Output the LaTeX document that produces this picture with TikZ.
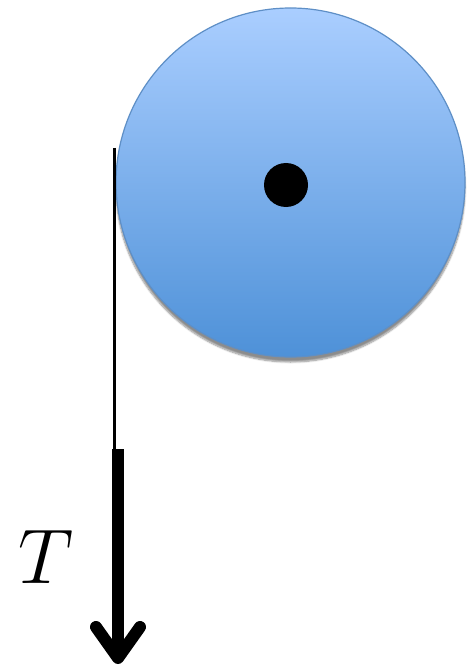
\documentclass[tikz,border=0pt]{standalone}
\usepackage{graphicx}
\usepackage{tikz}
\usetikzlibrary{positioning,calc,arrows.meta,shadows.blur}
\definecolor{wheeltop}{HTML}{AACEFF}
\definecolor{wheelbot}{HTML}{4E91D8}
\definecolor{wheelrim}{HTML}{5E8FC6}

\begin{document}
\begin{tikzpicture}[x=1pt, y=1pt,
  wheel/.style={circle, draw=wheelrim, line width=1.2pt,
             top color=wheeltop, bottom color=wheelbot,
             minimum size=349pt, inner sep=0pt,
             blur shadow={shadow xshift=0pt, shadow yshift=-5pt,
                          shadow opacity=45, shadow blur steps=8}},
  axle/.style={circle, fill=black, minimum size=44pt, inner sep=0pt},
  rope/.style={line width=3pt, black},
  pull/.style={line width=12pt, black,
             -{Straight Barb[length=31pt, width=44pt, round]}},
  lbl/.style={inner sep=0pt, font=\Huge},
]
\useasboundingbox (0,0) rectangle (470,-668);

\node[wheel] (pulley) at (290.5,-182.5) {};
\node[axle]  (hub)    at (286,-185)     {};

\coordinate (ropetop) at (114.5,-148);
\coordinate (ropeend) at (114.5,-450);
\coordinate (pullstart) at (118,-449);
\coordinate (pulltip)   at (118,-664);

\draw[rope] (ropetop) -- (ropeend);
\draw[pull] (pullstart) -- (pulltip);

\node[lbl] (tension) at (46,-557) {\scalebox{3.12}{$T$}};
\end{tikzpicture}
\end{document}
